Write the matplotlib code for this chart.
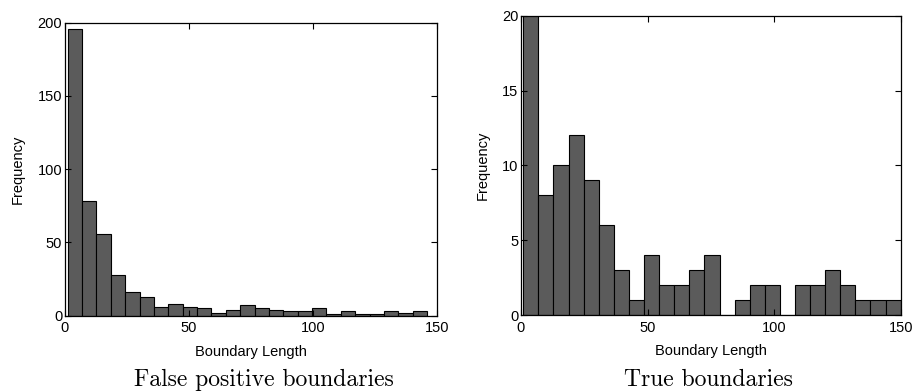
import numpy as np
import matplotlib.pyplot as plt

# histogram counts (25 bins each)
fp_counts = [196, 78, 56, 28, 16, 13, 6, 8, 6, 5, 2, 4, 7, 5, 4, 3, 3, 5, 1, 3, 1, 1, 3, 2, 3]
fp_range = (1.1, 146.0)

true_counts = [30, 8, 10, 12, 9, 6, 3, 1, 4, 2, 2, 3, 4, 0, 1, 2, 2, 0, 2, 2, 3, 2, 1, 1, 1]
true_range = (0.9, 150.0)

x_ticks = [0, 50, 100, 150]
fp_yticks = [0, 50, 100, 150, 200]
true_yticks = [0, 5, 10, 15, 20]

captions = ["False positive boundaries", "True boundaries"]

BAR_COLOR = "#5b5b5b"


def draw_hist(ax, counts, rng, yticks, caption, cap_x):
    edges = np.linspace(rng[0], rng[1], len(counts) + 1)
    ax.hist(edges[:-1], bins=edges, weights=counts, color=BAR_COLOR,
            edgecolor="black", linewidth=0.8)
    ax.set_xlim(0, 150)
    ax.set_ylim(yticks[0], yticks[-1])
    ax.set_xticks(x_ticks)
    ax.set_yticks(yticks)
    ax.tick_params(direction="in", top=True, right=True, length=4,
                   labelsize=10.5)
    ax.tick_params(axis="x", pad=4)
    ax.tick_params(axis="y", pad=2)
    for s in ax.spines.values():
        s.set_linewidth(0.9)
    ax.set_xlabel("Boundary Length", fontsize=10.5, labelpad=7)
    ax.set_ylabel("Frequency", fontsize=10.5, labelpad=9)
    ax.figure.text(cap_x, 0.016, caption, ha="center", va="baseline",
                   fontsize=17, family="cmr10")


plt.rcParams["font.family"] = ["Liberation Sans", "DejaVu Sans"]
fig = plt.figure(figsize=(9.14, 3.92), dpi=100)
ax1 = fig.add_axes([0.0711, 0.1946, 0.4070, 0.7475])
ax2 = fig.add_axes([0.5700, 0.1964, 0.4154, 0.7636])

draw_hist(ax1, fp_counts, fp_range, fp_yticks, captions[0], 264 / 914)
draw_hist(ax2, true_counts, true_range, true_yticks, captions[1], 708 / 914)

fig.savefig("out.png", dpi=100)
